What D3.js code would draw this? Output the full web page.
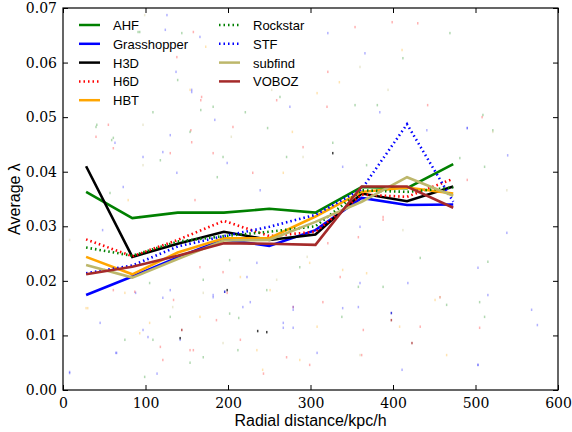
<!DOCTYPE html>
<html>
<head>
<meta charset="utf-8">
<script src="https://cdn.jsdelivr.net/npm/d3@7"></script>
<style>
body{margin:0;background:#fff;}
svg{display:block;}
</style>
</head>
<body>
<svg id="chart" width="572" height="432"></svg>
<script>
// ---- data ----
const radii = [28, 84, 139, 195, 250, 306, 362, 417, 473];
const seriesNames = ["AHF","Grasshopper","H3D","H6D","HBT","Rockstar","STF","subfind","VOBOZ"];
const AHF         = [0.0363,0.0315,0.0325,0.0325,0.0332,0.0325,0.0372,0.0370,0.0414];
const Grasshopper = [0.0174,0.0208,0.0243,0.0276,0.0264,0.0293,0.0352,0.0339,0.0340];
const H3D         = [0.0410,0.0244,0.0268,0.0290,0.0275,0.0285,0.0360,0.0346,0.0373];
const H6D         = [0.0276,0.0245,0.0275,0.0310,0.0282,0.0290,0.0358,0.0354,0.0387];
const HBT         = [0.0244,0.0212,0.0252,0.0278,0.0278,0.0318,0.0363,0.0371,0.0360];
const Rockstar    = [0.0261,0.0246,0.0272,0.0282,0.0290,0.0300,0.0366,0.0363,0.0371];
const STF         = [0.0214,0.0228,0.0263,0.0282,0.0299,0.0321,0.0368,0.0487,0.0345];
const subfind     = [0.0229,0.0206,0.0240,0.0274,0.0275,0.0308,0.0345,0.0390,0.0356];
const VOBOZ       = [0.0212,0.0226,0.0246,0.0269,0.0268,0.0266,0.0373,0.0373,0.0334];
const seriesValues = [AHF,Grasshopper,H3D,H6D,HBT,Rockstar,STF,subfind,VOBOZ];
const xTicks = [0,100,200,300,400,500,600];
const yTicks = [0,0.01,0.02,0.03,0.04,0.05,0.06,0.07];
// individual halo points (x, lambda, code)
const haloPoints = [
[28,0.0150,"o"],[75,0.0178,"o"],[88,0.0178,"b"],[93,0.0104,"o"],[75,0.0092,"g"],[65,0.0068,"b"],[103,0.0097,"b"],
[142,0.0092,"b"],[144,0.011,"m"],[154,0.005,"g"],[182,0.017,"b"],[199,0.0178,"r"],[202,0.014,"g"],[218,0.0152,"b"],
[247,0.0106,"k"],[235,0.0073,"o"],[243,0.003,"r"],[99,0.0024,"g"],[114,0.003,"b"],[45,0.0123,"b"],[8,0.0033,"b"],
[267,0.0123,"b"],[279,0.0147,"b"],[130,0.0134,"g"],[166,0.0134,"o"],[215,0.0092,"r"],[170,0.006,"g"],[118,0.0079,"r"],
[134,0.0165,"r"],[186,0.0128,"r"],
[398,0.0141,"B"],[423,0.0086,"m"],[411,0.0037,"b"],[503,0.0046,"b"],[279,0.0152,"r"],[279,0.0114,"b"],[308,0.0116,"o"],
[338,0.0134,"g"],[362,0.0064,"r"],[358,0.0152,"b"],[451,0.0165,"o"],[457,0.017,"r"],[505,0.0161,"g"],[515,0.0174,"b"],
[511,0.0134,"g"],[575,0.0119,"b"],[568,0.0147,"b"],[505,0.0114,"r"],[465,0.0064,"o"],[299,0.0046,"r"],[388,0.0189,"g"],
[433,0.0116,"r"],[408,0.0116,"o"],[287,0.0055,"o"],
[411,0.0623,"o"],[366,0.0617,"b"],[412,0.0608,"g"],[430,0.0672,"r"],[399,0.0674,"r"],[469,0.0654,"g"],[335,0.0564,"o"],
[321,0.0583,"r"],[360,0.0592,"y"],[278,0.0473,"o"],[291,0.0445,"r"],[327,0.0453,"g"],[394,0.055,"y"],[441,0.0476,"b"],
[490,0.048,"b"],[508,0.05,"r"],[381,0.0522,"g"],[248,0.048,"g"],[291,0.0427,"y"],[339,0.0409,"b"],[521,0.0476,"g"],
[481,0.0425,"g"],[259,0.0531,"r"],[253,0.055,"y"],[321,0.0654,"b"],[354,0.0665,"r"],
[61,0.0462,"g"],[40,0.0482,"g"],[40,0.0464,"r"],[61,0.0443,"r"],[93,0.0656,"g"],[137,0.0583,"b"],[139,0.0568,"g"],
[154,0.055,"o"],[167,0.0531,"r"],[167,0.0513,"g"],[184,0.0495,"b"],[166,0.0647,"b"],[173,0.0629,"o"],[206,0.0482,"r"],
[221,0.0509,"g"],[155,0.0476,"r"],[121,0.0436,"b"],[109,0.0509,"g"],[130,0.0434,"r"],[97,0.0427,"b"],[194,0.0427,"g"],
[204,0.0464,"y"],
[196,0.018,"B"],[236,0.0108,"k"],[182,0.0174,"b"],[213,0.0132,"g"],[227,0.0161,"b"],[247,0.0183,"g"],[267,0.0114,"b"],
[279,0.0152,"b"],[166,0.0225,"r"],[170,0.0202,"g"],[194,0.0216,"r"],[215,0.0207,"o"],[235,0.0233,"b"],[259,0.0202,"y"],
[287,0.0225,"g"],[299,0.0233,"o"],[158,0.0073,"r"],[212,0.0073,"g"],[242,0.0037,"o"],[194,0.0086,"y"],[271,0.006,"r"],
[308,0.0068,"b"],
[398,0.0128,"m"],[321,0.0269,"r"],[339,0.022,"o"],[358,0.0189,"g"],[368,0.0214,"o"],[418,0.0196,"b"],[433,0.0242,"g"],
[457,0.017,"y"],[465,0.0156,"g"],[515,0.0235,"g"],[503,0.0224,"b"],[315,0.0161,"r"],[339,0.015,"b"],[364,0.011,"r"],
[360,0.0064,"y"],[503,0.0046,"b"],
[30,0.015,"o"],[64,0.0068,"b"],[87,0.018,"r"],[97,0.011,"b"],[105,0.0123,"o"],[109,0.0092,"g"],[121,0.0055,"r"],
[142,0.0095,"k"],[133,0.0152,"y"],[154,0.0073,"r"],[121,0.0169,"b"],[8,0.0031,"b"],
[509,0.0504,"g"],[490,0.048,"b"],[521,0.0473,"y"],[538,0.0366,"y"],[539,0.043,"b"],[511,0.0409,"g"],[490,0.0385,"r"],
[538,0.0288,"b"],[354,0.0522,"g"],[384,0.0509,"b"],[442,0.0522,"r"],[358,0.028,"r"],[388,0.0312,"r"],[412,0.0293,"y"],
[91,0.0656,"g"],[124,0.066,"b"],[138,0.061,"r"],[144,0.0654,"g"],[41,0.0486,"g"],[55,0.0486,"r"],[59,0.0458,"g"],
[63,0.0453,"b"],[97,0.0486,"y"],[130,0.0467,"b"],[154,0.0473,"g"],[156,0.055,"b"],[156,0.0454,"r"],[99,0.0687,"y"],
[126,0.0687,"b"],[158,0.0656,"r"],
[168,0.0537,"r"],[182,0.0519,"g"],[156,0.0546,"b"],[263,0.0537,"g"],[275,0.0519,"b"],[308,0.0544,"o"],[320,0.0519,"r"],
[8,0.0275,"y"],[57,0.0361,"g"],[73,0.0372,"b"],[93,0.0317,"r"],[79,0.0348,"o"],[118,0.0421,"g"],[138,0.0398,"b"],
[160,0.0348,"r"],[182,0.0434,"r"],[187,0.039,"g"],[97,0.0412,"y"],[48,0.0293,"b"],[61,0.0183,"r"],[105,0.0196,"g"],
[130,0.0183,"b"],[170,0.0178,"y"],
[199,0.0416,"b"],[230,0.0398,"r"],[271,0.0427,"g"],[327,0.0434,"k"],[360,0.0299,"b"],[388,0.0317,"r"],[368,0.0412,"g"],
[202,0.0238,"g"],[223,0.0207,"b"],[251,0.0183,"o"],[296,0.0244,"y"],[336,0.0207,"r"],[360,0.0196,"b"],[199,0.0183,"k"],
[267,0.0398,"o"],[239,0.0366,"b"]
];

// ---- styles ----
const colors = ["#008000","#0000ff","#000000","#ff0000","#ffa500","#008000","#0000ff","#bdb76b","#a52a2a"];
const dotted = [false,false,false,true,false,true,true,false,false];
const dotColor = {g:"#008000",b:"#0000ff",B:"#0000cc",k:"#000000",r:"#ff0000",o:"#ffa500",y:"#bdb76b",m:"#a52a2a"};

const svg = d3.select("#chart");
const L = 63, R = 558, T = 8, B = 390;
const x = d3.scaleLinear().domain([0,600]).range([L,R]);
const y = d3.scaleLinear().domain([0,0.07]).range([B,T]);

// halo dots
svg.append("g").selectAll("rect").data(haloPoints).join("rect")
  .attr("x", d => x(d[0]) - 0.75).attr("y", d => y(d[1]) - 1.25)
  .attr("width", 1.5).attr("height", 2.5)
  .attr("fill", d => dotColor[d[2]])
  .attr("opacity", d => (d[2]==="B"||d[2]==="k"||d[2]==="m") ? 0.75 : 0.3);

// lines
const line = d3.line().x((d,i) => x(radii[i])).y(d => y(d));
seriesValues.forEach((vals, k) => {
  svg.append("path").datum(vals)
    .attr("d", line).attr("fill","none")
    .attr("stroke", colors[k]).attr("stroke-width", 2.6)
    .attr("stroke-linejoin","miter")
    .attr("stroke-dasharray", dotted[k] ? "1.5,3" : null);
});

// axes (ticks inside, all four sides)
const tickFont = "'DejaVu Serif', 'Liberation Serif', serif";
function styleAxis(g){
  g.select(".domain").remove();
  g.selectAll("line").attr("stroke","#000").attr("stroke-width",1);
  g.selectAll("text").attr("font-family", tickFont).attr("font-size", 14).attr("fill","#000");
}
svg.append("g").attr("transform",`translate(0,${B})`)
  .call(d3.axisBottom(x).tickValues(xTicks).tickFormat(d3.format("d")).tickSizeInner(-5).tickSizeOuter(0).tickPadding(8))
  .call(styleAxis);
svg.append("g").attr("transform",`translate(0,${T})`)
  .call(d3.axisTop(x).tickValues(xTicks).tickFormat("").tickSizeInner(-5).tickSizeOuter(0))
  .call(styleAxis);
svg.append("g").attr("transform",`translate(${L},0)`)
  .call(d3.axisLeft(y).tickValues(yTicks).tickFormat(d3.format(".2f")).tickSizeInner(-5).tickSizeOuter(0).tickPadding(6))
  .call(styleAxis);
svg.append("g").attr("transform",`translate(${R},0)`)
  .call(d3.axisRight(y).tickValues(yTicks).tickFormat("").tickSizeInner(-5).tickSizeOuter(0))
  .call(styleAxis);

// frame
svg.append("rect").attr("x",L).attr("y",T).attr("width",R-L).attr("height",B-T)
  .attr("fill","none").attr("stroke","#000").attr("stroke-width",1.2);

// axis titles
const sans = "'Liberation Sans', Arial, Helvetica, sans-serif";
svg.append("text").attr("x",(L+R)/2).attr("y",426).attr("text-anchor","middle")
  .attr("font-family",sans).attr("font-size",16).text("Radial distance/kpc/h");
svg.append("text").attr("transform",`translate(20,${(T+B)/2}) rotate(-90)`).attr("text-anchor","middle")
  .attr("font-family",sans).attr("font-size",16).text("Average λ");

// legend
const leg = svg.append("g");
seriesNames.forEach((name,k) => {
  const col = k < 5 ? 0 : 1;
  const row = k < 5 ? k : k-5;
  const lx = col === 0 ? 79 : 219;
  const ly = 25 + row*18.8;
  leg.append("line").attr("x1",lx).attr("x2",lx+21).attr("y1",ly).attr("y2",ly)
    .attr("stroke",colors[k]).attr("stroke-width",2.5)
    .attr("stroke-dasharray", dotted[k] ? "1.5,3" : null);
  leg.append("text").attr("x", lx+34).attr("y", ly+5)
    .attr("font-family",sans).attr("font-size",13).text(name);
});
</script>
</body>
</html>
